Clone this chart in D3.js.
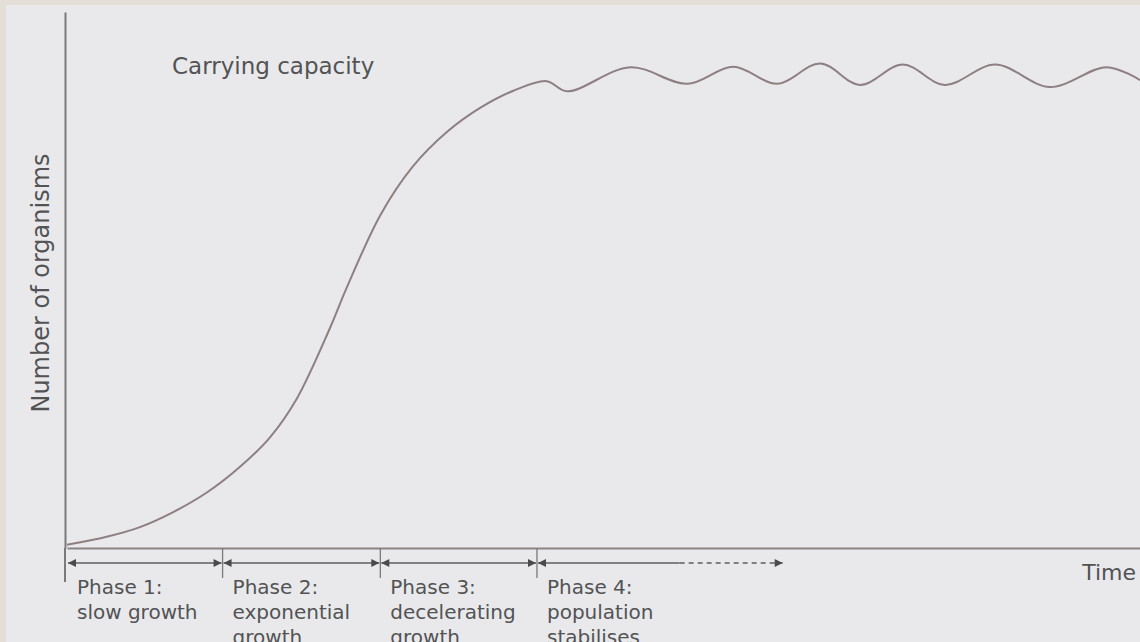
<!DOCTYPE html>
<html>
<head>
<meta charset="utf-8">
<script src="https://cdn.jsdelivr.net/npm/d3@7"></script>
<style>
  html, body { margin: 0; padding: 0; background: #e9e9eb; overflow: hidden; }
  text { font-family: "DejaVu Sans", sans-serif; fill: #525355; }
</style>
</head>
<body>
<script>
// population growth curve (time and number in arbitrary units 0-100)
var time   = [0, 3.7, 6.8, 9.9, 13.0, 16.1, 18.9, 21.4, 24.5, 26.1, 29.2, 32.2, 35.4, 38.5, 41.6, 44.7, 46.6, 52.5, 57.8, 62.1, 66.2, 70.2, 73.9, 77.9, 81.8, 86.5, 91.6, 96.9, 100]
var number = [0.6, 2.1, 3.9, 6.7, 10.3, 15.1, 20.6, 27.8, 41.0, 48.7, 62.1, 71.1, 77.6, 82.1, 85.3, 87.1, 85.2, 89.7, 86.6, 89.8, 86.6, 90.4, 86.4, 90.2, 86.4, 90.2, 86.0, 89.7, 87.3]

var phaseStart = [0, 14.5, 29.2, 43.8]
var phaseEnd   = [14.5, 29.2, 43.8, 66.7]
var phaseLabels = [
  ["Phase 1:", "slow growth"],
  ["Phase 2:", "exponential", "growth"],
  ["Phase 3:", "decelerating", "growth"],
  ["Phase 4:", "population", "stabilises"]
]
var phase4Solid = 57.1   // where the last arrow turns dashed

var W = 1140, H = 642

var svg = d3.select("body").append("svg")
  .attr("width", W)
  .attr("height", H)

// paper edge on top and left
svg.append("rect").attr("x", 0).attr("y", 0).attr("width", W).attr("height", 5).attr("fill", "#e4ded6")
svg.append("rect").attr("x", 0).attr("y", 0).attr("width", 6).attr("height", H).attr("fill", "#e4ded6")

var x = d3.scaleLinear().domain([0, 100]).range([67, 1140])
var y = d3.scaleLinear().domain([0, 100]).range([548, 12])

// axes, no ticks
var xAxis = svg.append("g")
  .attr("transform", "translate(0," + y(0) + ")")
  .call(d3.axisBottom(x).tickValues([]).tickSizeOuter(0))
xAxis.select(".domain").attr("stroke", "#8b8385").attr("stroke-width", 2)

var yAxis = svg.append("g")
  .attr("transform", "translate(" + (x(0) - 2) + ",0)")
  .call(d3.axisLeft(y).tickValues([]).tickSizeOuter(0))
yAxis.select(".domain").attr("stroke", "#7a7a7c").attr("stroke-width", 2)

// growth curve
var pts = time.map(function(t, i) { return [t, number[i]] })
var line = d3.line()
  .x(function(d) { return x(d[0]) })
  .y(function(d) { return y(d[1]) })
  .curve(d3.curveCatmullRom.alpha(0.5))

svg.append("path")
  .datum(pts)
  .attr("d", line)
  .attr("fill", "none")
  .attr("stroke", "#8d7f82")
  .attr("stroke-width", 2)

// phase arrows
var defs = svg.append("defs")
defs.append("marker")
  .attr("id", "head")
  .attr("viewBox", "0 0 10 10")
  .attr("refX", 10).attr("refY", 5)
  .attr("markerWidth", 11).attr("markerHeight", 8)
  .attr("markerUnits", "userSpaceOnUse")
  .attr("orient", "auto-start-reverse")
  .append("path")
  .attr("d", "M0,0L10,5L0,10Z")
  .attr("fill", "#4a4a4c")

var arrowY = 563

// boundary ticks
svg.selectAll("line.bound")
  .data(phaseStart)
  .enter().append("line")
  .attr("class", "bound")
  .attr("x1", function(d) { return x(d) - (d === 0 ? 2 : 0) })
  .attr("x2", function(d) { return x(d) - (d === 0 ? 2 : 0) })
  .attr("y1", y(0))
  .attr("y2", function(d, i) { return i === 0 ? 582 : 578 })
  .attr("stroke", "#7a7a7c")
  .attr("stroke-width", function(d, i) { return i === 0 ? 2 : 1.3 })

var solidEnd = phaseEnd.map(function(e, i) { return i === 3 ? phase4Solid : e })

svg.selectAll("line.arrow")
  .data(phaseStart)
  .enter().append("line")
  .attr("class", "arrow")
  .attr("x1", function(d) { return x(d) + 1 })
  .attr("x2", function(d, i) { return x(solidEnd[i]) - (i === 3 ? 0 : 1) })
  .attr("y1", arrowY).attr("y2", arrowY)
  .attr("stroke", "#5e5e60")
  .attr("stroke-width", 1.4)
  .attr("marker-start", "url(#head)")
  .attr("marker-end", function(d, i) { return i === 3 ? null : "url(#head)" })

svg.append("line")
  .attr("x1", x(phase4Solid)).attr("x2", x(phaseEnd[3]))
  .attr("y1", arrowY).attr("y2", arrowY)
  .attr("stroke", "#5e5e60")
  .attr("stroke-width", 1.4)
  .attr("stroke-dasharray", "5,4")
  .attr("marker-end", "url(#head)")

// phase labels
var labels = svg.selectAll("text.phase")
  .data(phaseLabels)
  .enter().append("text")
  .attr("class", "phase")
  .attr("x", function(d, i) { return x(phaseStart[i]) + 10 })
  .attr("y", 594)
  .style("font-size", "20px")

labels.selectAll("tspan")
  .data(function(d) { return d })
  .enter().append("tspan")
  .attr("x", function() { return d3.select(this.parentNode).attr("x") })
  .attr("dy", function(d, i) { return i === 0 ? 0 : 25 })
  .text(function(d) { return d })

// other text
svg.append("text")
  .attr("x", 172).attr("y", 74)
  .style("font-size", "23px")
  .text("Carrying capacity")

svg.append("text")
  .attr("x", 1136).attr("y", 580)
  .attr("text-anchor", "end")
  .style("font-size", "22px")
  .text("Time")

svg.append("text")
  .attr("transform", "translate(49,283) rotate(-90)")
  .attr("text-anchor", "middle")
  .style("font-size", "24px")
  .text("Number of organisms")
</script>
</body>
</html>
